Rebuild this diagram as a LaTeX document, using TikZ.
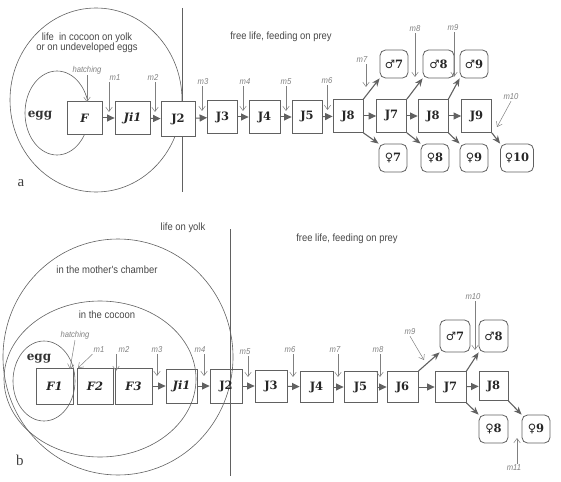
\documentclass[tikz,border=0pt]{standalone}
\usepackage{fontspec}
\setmainfont{Liberation Serif}
\newfontfamily\labf[FakeStretch=0.9]{Liberation Sans}
\newfontfamily\boxf{DejaVu Serif}
\newfontfamily\symf{DejaVu Sans}
\usetikzlibrary{arrows.meta}
\definecolor{ln}{gray}{0.38}
\definecolor{tx}{gray}{0.28}
\definecolor{mt}{gray}{0.5}
\newcommand{\ma}{{\symf\bfseries ♂}}
\newcommand{\fe}{{\symf\bfseries ♀}}
\begin{document}
\begin{tikzpicture}[x=1pt,y=-1pt,
  box/.style={draw=ln, line width=0.8pt, minimum height=33pt, inner sep=0pt,
    font=\boxf\bfseries\fontsize{11.5}{11.5}\selectfont, text=black!85},
  rbox/.style={box, rounded corners=5.5pt, minimum width=28pt, minimum height=28pt},
  harr/.style={draw=ln, line width=1pt, -{Triangle[length=7.5pt,width=7pt]}},
  darr/.style={draw=ln, line width=1.1pt, -{Stealth[length=8pt,width=6.5pt]}},
  marr/.style={draw=mt, line width=0.5pt, -{Straight Barb[length=4.5pt,width=6.5pt]}},
  mlab/.style={font=\labf\itshape\fontsize{8.5}{9}\selectfont, text=mt, inner sep=1pt},
  lab/.style={font=\labf\fontsize{10.5}{12}\selectfont, text=tx, align=center, inner sep=1pt},
  curve/.style={draw=ln, line width=0.6pt},
  eggf/.style={font=\boxf\bfseries\fontsize{12}{12}\selectfont, text=black!80, inner sep=1pt},
  pan/.style={font=\fontsize{15}{15}\selectfont, text=black!75, inner sep=0pt}]
\useasboundingbox (0,0) rectangle (561,481);

% ================= panel a =================
\draw[curve] (96,100) ellipse [x radius=86, y radius=92];
\draw[curve] (57,113) ellipse [x radius=32, y radius=42];
\coordinate (aL1) at (182,8);
\coordinate (aL2) at (182,192);
\draw[curve] (aL1) -- (aL2);

\node[lab] (acoc) at (87,43) {life \ in cocoon on yolk\\[-1.5pt]or on undeveloped eggs};
\node[lab] (afree) at (281,37) {free life, feeding on prey};
\node[eggf] (aegg) at (40,116) {egg};
\node[pan] (apan) at (21,183) {a};

\node[box, minimum width=35pt, fill=white] (aF) at (84.5,118) {\itshape F};
\node[box, minimum width=35pt] (aJi1) at (132.5,118) {\itshape Ji1};
\node[box, minimum width=34pt, minimum height=35pt, fill=white] (aJ2) at (178,119) {J2};
\node[box, minimum width=30pt] (aJ3) at (222.5,117) {J3};
\node[box, minimum width=31pt] (aJ4) at (264.5,117) {J4};
\node[box, minimum width=30pt] (aJ5) at (307,117) {J5};
\node[box, minimum width=30pt] (aJ8) at (348,116) {J8};
\node[box, minimum width=30pt] (aJ7) at (391.5,116) {J7};
\node[box, minimum width=30pt] (aJ8b) at (433,116) {J8};
\node[box, minimum width=30pt] (aJ9) at (476.5,116) {J9};

\node[rbox] (aM7) at (394,64) {\ma7};
\node[rbox, minimum width=31pt] (aM8) at (438.5,64) {\ma8};
\node[rbox] (aM9) at (474,64) {\ma9};
\node[rbox] (aW7) at (393,158) {\fe7};
\node[rbox] (aW8) at (435,158) {\fe8};
\node[rbox] (aW9) at (474,158) {\fe9};
\node[rbox, minimum width=33pt] (aW10) at (517,158) {\fe10};

\foreach \a/\b in {aF/aJi1,aJi1/aJ2,aJ2/aJ3,aJ3/aJ4,aJ4/aJ5,aJ5/aJ8,aJ8/aJ7,aJ7/aJ8b,aJ8b/aJ9}
  \draw[harr] (\a) -- (\b);
\draw[darr] (aJ8.north east) -- (aM7.south west);
\draw[darr] (aJ7.north east) -- (aM8.south west);
\draw[darr] (aJ8b.north east) -- (aM9.south west);
\draw[darr] (aJ8.south east) -- (aW7.north west);
\draw[darr] (aJ7.south east) -- (aW8.north west);
\draw[darr] (aJ8b.south east) -- (aW9.north west);
\draw[darr] (aJ9.south east) -- (aW10.north west);

\node[mlab] (ahat) at (87,70) {hatching};
\node[mlab] (am1) at (115,78) {m1};
\node[mlab] (am2) at (153,78) {m2};
\node[mlab] (am3) at (203,82) {m3};
\node[mlab] (am4) at (245,82) {m4};
\node[mlab] (am5) at (286,82) {m5};
\node[mlab] (am6) at (327,81) {m6};
\node[mlab] (am7) at (362,60) {m7};
\node[mlab] (am8) at (415,29) {m8};
\node[mlab] (am9) at (453,28) {m9};
\node[mlab] (am10) at (511,97) {m10};
\coordinate (ahatE) at (87,102);
\coordinate (am1E) at (109,112);
\coordinate (am2E) at (155,112);
\coordinate (am3E) at (202,111);
\coordinate (am4E) at (243,111);
\coordinate (am5E) at (286,111);
\coordinate (am6E) at (327.5,110);
\coordinate (am7E) at (366,87);
\coordinate (am8E) at (415,77);
\coordinate (am9E) at (454,77);
\coordinate (am10E) at (497,127);
\foreach \n in {ahat,am1,am2,am3,am4,am5,am6,am7,am8,am9}
  \draw[marr] (\n.south -| \n E) -- (\n E);
\draw[marr] (am10.south) -- (am10E);

% ================= panel b =================
\draw[curve] (118,357) ellipse [x radius=115, y radius=118];
\draw[curve] (100,379) ellipse [x radius=96, y radius=78];
\draw[curve] (44,381) ellipse [x radius=31, y radius=40];
\coordinate (bL1) at (230,229);
\coordinate (bL2) at (230,476);
\draw[curve] (bL1) -- (bL2);

\node[lab] (byolk) at (183,228) {life on yolk};
\node[lab] (bfree) at (347,239) {free life, feeding on prey};
\node[lab] (bmoth) at (107,270) {in the mother's chamber};
\node[lab] (bcoc) at (107,315) {in the cocoon};
\node[eggf] (begg) at (39,359) {egg};
\node[pan] (bpan) at (20,460) {b};

\node[box, minimum width=37pt, minimum height=36pt] (bF1) at (54.5,386) {\itshape F1};
\node[box, minimum width=36pt, minimum height=36pt] (bF2) at (95,386) {\itshape F2};
\node[box, minimum width=37pt, minimum height=36pt] (bF3) at (133.5,386) {\itshape F3};
\node[box, minimum width=31pt, minimum height=34pt] (bJi1) at (181.5,386) {\itshape Ji1};
\node[box, minimum width=32pt, minimum height=34pt] (bJ2) at (226,386) {J2};
\node[box, minimum width=32pt, minimum height=32pt] (bJ3) at (271,386) {J3};
\node[box, minimum width=33pt, minimum height=31pt] (bJ4) at (316.5,387) {J4};
\node[box, minimum width=33pt, minimum height=31pt] (bJ5) at (360.5,387) {J5};
\node[box, minimum width=31pt, minimum height=31pt] (bJ6) at (402.5,387) {J6};
\node[box, minimum width=31pt, minimum height=31pt] (bJ7) at (450.5,387) {J7};
\node[box, minimum width=29pt, minimum height=29pt] (bJ8) at (493.5,386) {J8};

\node[rbox, minimum width=30pt, minimum height=32pt] (bM7) at (455,336) {\ma7};
\node[rbox, minimum width=29pt, minimum height=32pt] (bM8) at (493.5,336) {\ma8};
\node[rbox, minimum width=29pt] (bW8) at (493.5,429) {\fe8};
\node[rbox] (bW9) at (536,429) {\fe9};

\foreach \a/\b in {bF3/bJi1,bJi1/bJ2,bJ2/bJ3,bJ3/bJ4,bJ4/bJ5,bJ5/bJ6,bJ6/bJ7,bJ7/bJ8}
  \draw[harr] (\a) -- (\b);
\draw[darr] (bJ6.north east) -- (bM7.south west);
\draw[darr] (bJ7.north east) -- (bM8.south west);
\draw[darr] (bJ7.south east) -- (bW8.north west);
\draw[darr] (bJ8.south east) -- (bW9.north west);

\node[mlab] (bhat) at (75,335) {hatching};
\node[mlab] (bm1) at (99,350) {m1};
\node[mlab] (bm2) at (124,350) {m2};
\node[mlab] (bm3) at (157,350) {m3};
\node[mlab] (bm4) at (200,350) {m4};
\node[mlab] (bm5) at (245,352) {m5};
\node[mlab] (bm6) at (290,350) {m6};
\node[mlab] (bm7) at (335,350) {m7};
\node[mlab] (bm8) at (378,350) {m8};
\node[mlab] (bm9) at (410,332) {m9};
\node[mlab] (bm10) at (473,297) {m10};
\node[mlab] (bm11) at (514,468) {m11};
\coordinate (bhatE) at (70,369);
\coordinate (bm1E) at (78,368);
\coordinate (bm2E) at (116,371);
\coordinate (bm3E) at (157,376);
\coordinate (bm4E) at (204,376);
\coordinate (bm5E) at (248,377);
\coordinate (bm6E) at (293,377);
\coordinate (bm7E) at (338,377);
\coordinate (bm8E) at (380,377);
\coordinate (bm9E) at (424,360);
\coordinate (bm10E) at (475,350);
\coordinate (bm11E) at (517,438);
\draw[marr] (bhat.south) -- (bhatE);
\draw[marr] (bm1.south west) -- (bm1E);
\foreach \n in {bm2,bm3,bm4,bm5,bm6,bm7,bm8,bm10}
  \draw[marr] (\n.south -| \n E) -- (\n E);
\draw[marr] (bm9.south) -- (bm9E);
\draw[marr] (bm11.north -| bm11E) -- (bm11E);
\end{tikzpicture}
\end{document}
